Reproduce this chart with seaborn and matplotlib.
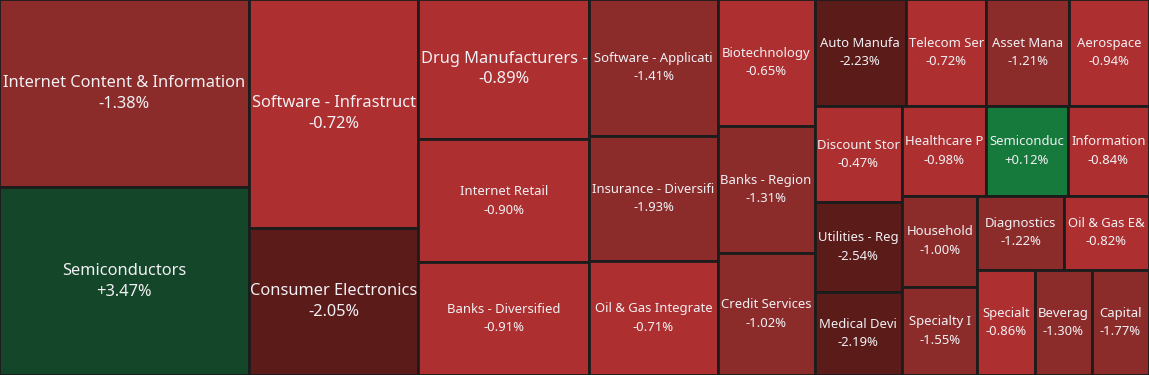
import matplotlib
matplotlib.use("Agg")
import matplotlib.pyplot as plt
from matplotlib.patches import Rectangle
import seaborn as sns

# industry labels as shown on the tiles (truncated to fit)
industries = [
    "Internet Content & Information", "Semiconductors",
    "Software - Infrastruct", "Consumer Electronics",
    "Drug Manufacturers -", "Internet Retail", "Banks - Diversified",
    "Software - Applicati", "Insurance - Diversifi", "Oil & Gas Integrate",
    "Biotechnology", "Banks - Region", "Credit Services",
    "Auto Manufa", "Telecom Ser", "Asset Mana", "Aerospace",
    "Discount Stor", "Utilities - Reg", "Medical Devi",
    "Healthcare P", "Semiconduc", "Information",
    "Household", "Specialty I",
    "Diagnostics", "Oil & Gas E&",
    "Specialt", "Beverag", "Capital",
]
# relative size of each industry (tile area)
sizes = [
    470, 468,
    385, 248,
    239, 210, 192,
    175, 159, 146,
    123, 122, 118,
    98, 86, 88, 86,
    84, 78, 73,
    74, 73, 72,
    68, 66,
    64, 63,
    60, 60, 60,
]
# daily change, %
changes = [
    -1.38, 3.47,
    -0.72, -2.05,
    -0.89, -0.90, -0.91,
    -1.41, -1.93, -0.71,
    -0.65, -1.31, -1.02,
    -2.23, -0.72, -1.21, -0.94,
    -0.47, -2.54, -2.19,
    -0.98, 0.12, -0.84,
    -1.00, -1.55,
    -1.22, -0.82,
    -0.86, -1.30, -1.77,
]

# strip layout: tiles per strip, 'v' = column on the left, 'h' = row on top
strip_counts = [2, 2, 3, 3, 3, 4, 3, 3, 2, 2, 3]
strip_dirs = ['v', 'v', 'v', 'v', 'v', 'h', 'v', 'h', 'v', 'h', 'h']

W, H = 1149, 375


def strip_layout(values, counts, dirs, x, y, w, h):
    rects = []
    i = 0
    for n, d in zip(counts, dirs):
        chunk = values[i:i + n]
        frac = sum(chunk) / sum(values[i:])
        if d == 'v':
            sw = w * frac
            yy = y
            for v in chunk:
                hh = h * v / sum(chunk)
                rects.append((x, yy, sw, hh))
                yy += hh
            x += sw
            w -= sw
        else:
            sh = h * frac
            xx = x
            for v in chunk:
                ww = w * v / sum(chunk)
                rects.append((xx, y, ww, sh))
                xx += ww
            y += sh
            h -= sh
        i += n
    return rects


reds = sns.color_palette(["#ad2f2f", "#8b2c2b", "#5a1b19"])
greens = sns.color_palette(["#157a3c", "#1b5e33", "#144629"])


def tile_color(c):
    if c < 0:
        if c <= -2:
            return reds[2]
        if c <= -1:
            return reds[1]
        return reds[0]
    if c >= 2:
        return greens[2]
    if c >= 1:
        return greens[1]
    return greens[0]


sns.set_theme(style="white")
plt.rcParams['font.family'] = ['Noto Sans', 'DejaVu Sans']

fig = plt.figure(figsize=(W / 100, H / 100), dpi=100)
ax = fig.add_axes([0, 0, 1, 1])
ax.set_xlim(1, W)
ax.set_ylim(H, 1)
ax.axis('off')

rects = strip_layout(sizes, strip_counts, strip_dirs, 0, 0, W, H)
for (x, y, w, h), name, chg in zip(rects, industries, changes):
    ax.add_patch(Rectangle((x, y), w, h, facecolor=tile_color(chg),
                           edgecolor='#1c1c1c', linewidth=2.0))
    big = w * h > 22500
    fs = 11.8 if big else 9.4
    ax.text(x + w / 2, y + h / 2, f"{name}\n{chg:+.2f}%", ha='center', va='center',
            multialignment='center', color='#f2f0f4', fontsize=fs,
            linespacing=1.4 if big else 1.55)

fig.savefig('out.png', dpi=100)
